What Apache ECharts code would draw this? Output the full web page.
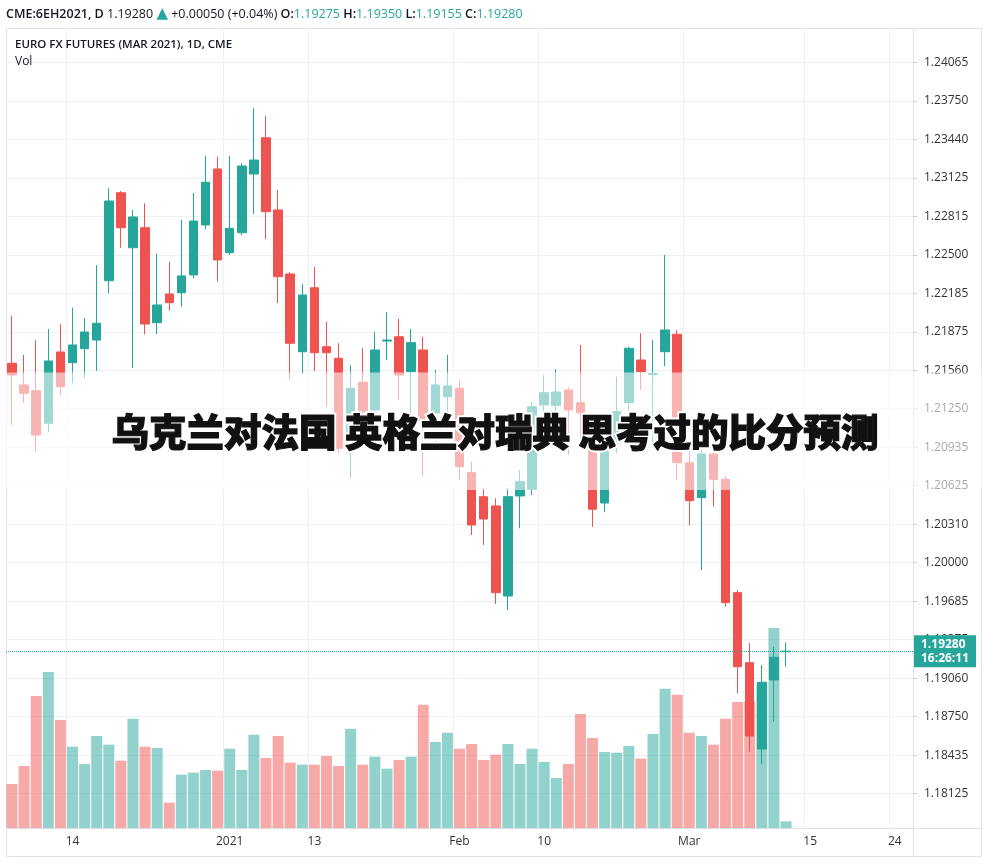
<!DOCTYPE html>
<html>
<head>
<meta charset="utf-8">
<script src="https://cdn.jsdelivr.net/npm/echarts@6/dist/echarts.min.js"></script>
<style>
html,body{margin:0;padding:0;background:#fff;}
#chart{width:988px;height:863px;}
</style>
</head>
<body>
<div id="chart"></div>
<script>
const dates = [
  '2020-12-07','2020-12-08','2020-12-09','2020-12-10','2020-12-11',
  '2020-12-14','2020-12-15','2020-12-16','2020-12-17','2020-12-18',
  '2020-12-21','2020-12-22','2020-12-23','2020-12-24',
  '2020-12-28','2020-12-29','2020-12-30','2020-12-31',
  '2021-01-04','2021-01-05','2021-01-06','2021-01-07','2021-01-08',
  '2021-01-11','2021-01-12','2021-01-13','2021-01-14','2021-01-15',
  '2021-01-19','2021-01-20','2021-01-21','2021-01-22',
  '2021-01-25','2021-01-26','2021-01-27','2021-01-28','2021-01-29',
  '2021-02-01','2021-02-02','2021-02-03','2021-02-04','2021-02-05',
  '2021-02-08','2021-02-09','2021-02-10','2021-02-11','2021-02-12',
  '2021-02-16','2021-02-17','2021-02-18','2021-02-19',
  '2021-02-22','2021-02-23','2021-02-24','2021-02-25','2021-02-26',
  '2021-03-01','2021-03-02','2021-03-03','2021-03-04','2021-03-05',
  '2021-03-08','2021-03-09','2021-03-10','2021-03-11',
  '2021-03-12','2021-03-15','2021-03-16','2021-03-17','2021-03-18','2021-03-19',
  '2021-03-22','2021-03-23','2021-03-24','2021-03-25'
];
const xTickLabels = {
  '2020-12-14':'14','2021-01-04':'2021','2021-01-13':'13','2021-02-01':'Feb',
  '2021-02-10':'10','2021-03-01':'Mar','2021-03-15':'15','2021-03-24':'24'
};
const opens = [1.21619,1.21443,1.21396,1.21132,1.21711,1.21624,1.21738,1.21808,1.22290,1.23005,
  1.22558,1.22721,1.21949,1.22182,1.22193,1.22337,1.22743,1.23198,1.22518,1.22680,
  1.23157,1.23452,1.22865,1.22345,1.21713,1.22233,1.21754,1.21660,1.20996,1.21465,
  1.21240,1.21800,1.21835,1.21551,1.21727,1.21215,1.21348,1.21416,1.20730,1.20535,
  1.20460,1.19728,1.20541,1.20595,1.21280,1.21278,1.21402,1.21299,1.20971,1.20484,
  1.20971,1.21299,1.21646,1.21528,1.21713,1.21855,1.20811,1.20527,1.20882,1.20676,
  1.19755,1.19186,1.18485,1.19046,1.19275];
const highs = [1.22006,1.21687,1.21808,1.21898,1.21938,1.22071,1.21987,1.22418,1.23041,1.23019,
  1.22865,1.22919,1.22513,1.22445,1.22784,1.23003,1.23304,1.23298,1.23304,1.23244,
  1.23691,1.23631,1.23027,1.22361,1.22261,1.22404,1.21957,1.21782,1.21605,1.21743,
  1.21876,1.22034,1.21979,1.21898,1.21835,1.21565,1.21687,1.21483,1.20817,1.20603,
  1.20522,1.20603,1.20752,1.21307,1.21524,1.21573,1.21424,1.21768,1.21061,1.20955,
  1.21510,1.21754,1.21863,1.21808,1.22499,1.21890,1.20931,1.20928,1.20996,1.20703,
  1.19777,1.19344,1.19168,1.19316,1.19350];
const lows = [1.21118,1.21297,1.20901,1.21063,1.21362,1.21457,1.21500,1.21557,1.22188,1.22558,
  1.21583,1.21855,1.21855,1.22047,1.22079,1.22312,1.22708,1.22282,1.22499,1.22662,
  1.22832,1.22627,1.22107,1.21483,1.21538,1.21557,1.21266,1.20888,1.20685,1.20931,
  1.20939,1.21646,1.21321,1.20996,1.20698,1.20915,1.20996,1.20671,1.20224,1.20143,
  1.19663,1.19614,1.20278,1.20549,1.21077,1.21061,1.20874,1.20996,1.20291,1.20413,
  1.20888,1.20971,1.21402,1.20971,1.21597,1.20671,1.20305,1.19939,1.20454,1.19641,
  1.18938,1.18463,1.18361,1.18707,1.19155];
const closes = [1.21524,1.21375,1.21036,1.21638,1.21429,1.21768,1.21873,1.21944,1.22938,1.22721,
  1.22808,1.21938,1.22093,1.22112,1.22329,1.22775,1.23090,1.22459,1.22716,1.23222,
  1.23271,1.22851,1.22323,1.21782,1.22174,1.21705,1.21705,1.20928,1.21416,1.21226,
  1.21727,1.21808,1.21524,1.21787,1.21150,1.21443,1.21435,1.20779,1.20305,1.20354,
  1.19755,1.20535,1.20657,1.21266,1.21380,1.21386,1.21240,1.21218,1.20433,1.20931,
  1.21226,1.21741,1.21551,1.21536,1.21890,1.20811,1.20503,1.20882,1.20676,1.19674,
  1.19154,1.18591,1.19027,1.19230,1.19280];
// volume in thousands of contracts
const volumes = [66,93,198,234,162,122,96,138,125,101,
  164,122,120,38,80,83,87,86,119,87,
  140,105,138,98,95,95,108,93,149,95,
  107,89,102,107,185,129,143,119,126,102,
  110,126,96,119,99,75,96,171,135,114,
  113,123,104,141,209,200,143,138,125,164,
  189,190,215,300,10];
const priceTicks = [1.18125,1.18435,1.18750,1.19060,1.19375,1.19685,1.20000,1.20310,1.20625,1.20935,
  1.21250,1.21560,1.21875,1.22185,1.22500,1.22815,1.23125,1.23440,1.23750,1.24065];
const symbolName = 'CME:6EH2021, D';
const instrumentTitle = 'EURO FX FUTURES (MAR 2021), 1D, CME';
const change = '+0.00050 (+0.04%)';
const countdown = '16:26:11';
const overlayTitle = '乌克兰对法国 英格兰对瑞典 思考过的比分预测';

const UP = '#26a69a', DOWN = '#ef5350';
const n = closes.length;
const candleData = opens.map((o, i) => [o, closes[i], lows[i], highs[i]]);
const volData = volumes.map((v, i) => ({
  value: v,
  itemStyle: { color: closes[i] >= opens[i] ? 'rgba(38,166,154,0.5)' : 'rgba(239,83,80,0.5)' }
}));
const last = n - 1;
const showX = (idx) => xTickLabels[dates[idx]] !== undefined;
const FONT = '"Open Sans", "Noto Sans", sans-serif';
const TITLE_FONT = '900 37.5px "Noto Sans CJK SC", sans-serif';

const chart = echarts.init(document.getElementById('chart'), null, { renderer: 'canvas' });
chart.setOption({
  animation: false,
  backgroundColor: '#ffffff',
  grid: { left: 6, right: 75, top: 28, bottom: 35, show: false },
  xAxis: {
    type: 'category',
    data: dates,
    boundaryGap: true,
    axisLine: { show: true, lineStyle: { color: '#e0e3eb' } },
    axisTick: { show: false },
    axisLabel: {
      interval: (idx) => showX(idx),
      formatter: (v) => xTickLabels[v] || '',
      color: '#333', fontSize: 12, fontFamily: FONT, margin: 8
    },
    splitLine: { show: true, interval: (idx) => showX(idx), lineStyle: { color: '#eef0f4' } }
  },
  yAxis: [{
    type: 'value',
    position: 'right',
    min: 1.178428, max: 1.243437,
    axisLine: { show: true, lineStyle: { color: '#e0e3eb' } },
    axisTick: { show: true, length: 4, lineStyle: { color: '#c8cad0' }, customValues: priceTicks },
    axisLabel: { customValues: priceTicks, formatter: (v) => v.toFixed(5), color: '#333', fontSize: 12, fontFamily: FONT, margin: 11 },
    splitLine: { show: true, lineStyle: { color: '#eef0f4' } }
  }, {
    type: 'value', min: 0, max: 1200, show: false, splitLine: { show: false }
  }],
  series: [{
    type: 'bar', name: 'Vol', yAxisIndex: 1, data: volData, barWidth: 11, z: 1, silent: true
  }, {
    type: 'candlestick', name: 'Price', data: candleData, barWidth: 9, z: 2,
    itemStyle: { color: UP, color0: DOWN, borderColor: UP, borderColor0: DOWN, borderWidth: 1 },
    markLine: {
      silent: true, symbol: 'none', precision: 5,
      lineStyle: { type: 'dotted', color: UP, width: 1 },
      label: {
        position: 'end', distance: 1,
        formatter: () => closes[last].toFixed(5) + '\n' + countdown,
        backgroundColor: UP, color: '#fff', fontSize: 12, fontWeight: 'bold', fontFamily: FONT,
        lineHeight: 14, padding: [2, 7, 2, 7]
      },
      data: [{ yAxis: closes[last] }]
    }
  }],
  graphic: [
    { type: 'rect', z: 0, silent: true, shape: { x: 6.5, y: 28.5, width: 975, height: 828 },
      style: { fill: 'none', stroke: '#e0e3eb', lineWidth: 1 } },
    { type: 'line', z: 0, silent: true, shape: { x1: 913.5, y1: 28, x2: 913.5, y2: 857 },
      style: { stroke: '#e0e3eb', lineWidth: 1 } },
    { type: 'line', z: 0, silent: true, shape: { x1: 6, y1: 828.5, x2: 981, y2: 828.5 },
      style: { stroke: '#e0e3eb', lineWidth: 1 } },
    { type: 'text', z: 50, silent: true, x: 6, y: 14,
      style: {
        text: '{b|' + symbolName + '} {n|' + closes[last].toFixed(5) + '} {a|▲} {n|' + change + '} ' +
              '{b|O:}{t|' + opens[last].toFixed(5) + '} {b|H:}{t|' + highs[last].toFixed(5) + '} ' +
              '{b|L:}{t|' + lows[last].toFixed(5) + '} {b|C:}{t|' + closes[last].toFixed(5) + '}',
        verticalAlign: 'middle',
        font: '12.5px ' + FONT,
        fill: '#131722',
        rich: {
          b: { fontWeight: 600, fontSize: 12.5, fontFamily: FONT, fill: '#131722' },
          n: { fontSize: 12.5, fontFamily: FONT, fill: '#131722' },
          t: { fontSize: 12.5, fontFamily: FONT, fill: UP },
          a: { fontSize: 15, fontFamily: '"DejaVu Sans", sans-serif', fill: UP }
        }
      } },
    { type: 'text', z: 50, silent: true, x: 15, y: 45,
      style: { text: instrumentTitle, verticalAlign: 'middle', font: '600 11.5px ' + FONT, fill: '#131722' } },
    { type: 'text', z: 50, silent: true, x: 15, y: 62,
      style: { text: 'Vol', verticalAlign: 'middle', font: '12px ' + FONT, fill: '#131722' } },
    { type: 'rect', z: 100, silent: true, shape: { x: 0, y: 372.5, width: 988, height: 117.5 },
      style: { fill: 'rgba(255,255,255,0.57)' } },
    { type: 'text', z: 101, silent: true, x: 495, y: 432,
      style: {
        text: overlayTitle, align: 'center', verticalAlign: 'middle',
        font: TITLE_FONT, fill: '#ffffff', stroke: '#ffffff', lineWidth: 5
      } },
    { type: 'text', z: 102, silent: true, x: 495, y: 432,
      style: {
        text: overlayTitle, align: 'center', verticalAlign: 'middle',
        font: TITLE_FONT, fill: '#111111', stroke: '#111111', lineWidth: 1.2
      } }
  ]
});
</script>
</body>
</html>
